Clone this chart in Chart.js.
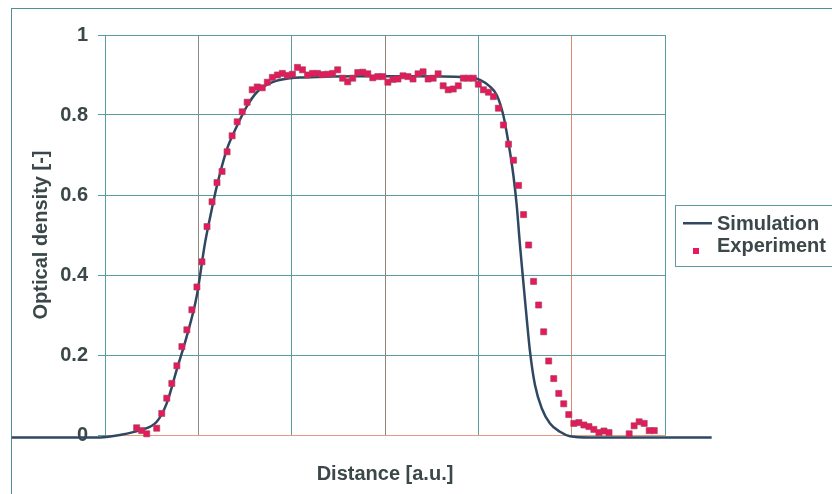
<!DOCTYPE html>
<html>
<head>
<meta charset="utf-8">
<script src="https://cdn.jsdelivr.net/npm/chart.js@4/dist/chart.umd.min.js"></script>
<style>
  html, body { margin: 0; padding: 0; background: #fff; overflow: hidden; }
  #frame { position: absolute; left: 11px; top: 8px; width: 900px; height: 600px;
           border-top: 1px solid #4f9095; border-left: 1px solid #4f9095; }
  #wrap { position: absolute; left: 0; top: 0; width: 832px; height: 494px; }
</style>
</head>
<body>
<div id="frame"></div>
<div id="wrap"><canvas id="grafico" width="832" height="494"></canvas></div>
<script>
// series names
const seriesNames = ["Simulation", "Experiment"];

// simulation curve (distance, optical density)
const simX = [0, 0.946, 1.160, 1.375, 1.554, 1.661, 1.768, 1.875, 1.982, 2.071, 2.143, 2.197, 2.304, 2.411, 2.518, 2.639, 2.803, 2.982, 3.121, 3.732, 4.375, 4.911, 5.018, 5.125, 5.197, 5.267, 5.321, 5.375, 5.411, 5.446, 5.482, 5.518, 5.554, 5.607, 5.679, 5.768, 5.875, 5.982, 6.196, 7.5];
const simY = [-0.006, -0.006, 0.000, 0.012, 0.033, 0.079, 0.163, 0.246, 0.346, 0.479, 0.563, 0.621, 0.713, 0.771, 0.821, 0.860, 0.883, 0.892, 0.894, 0.897, 0.897, 0.894, 0.888, 0.871, 0.850, 0.800, 0.733, 0.650, 0.575, 0.475, 0.383, 0.292, 0.208, 0.125, 0.067, 0.029, 0.008, -0.003, -0.006, -0.006];

// measured points
const expX = [1.339, 1.393, 1.447, 1.554, 1.608, 1.662, 1.716, 1.770, 1.824, 1.877,
  1.931, 1.985, 2.039, 2.093, 2.147, 2.200, 2.254, 2.308, 2.362, 2.416,
  2.470, 2.523, 2.577, 2.631, 2.685, 2.739, 2.793, 2.847, 2.900, 2.954,
  3.008, 3.062, 3.116, 3.170, 3.223, 3.277, 3.331, 3.385, 3.439, 3.493,
  3.546, 3.600, 3.654, 3.708, 3.762, 3.816, 3.869, 3.923, 3.977, 4.031,
  4.085, 4.139, 4.193, 4.246, 4.300, 4.354, 4.408, 4.462, 4.516, 4.569,
  4.623, 4.677, 4.731, 4.785, 4.839, 4.892, 4.946, 5.000, 5.054, 5.108,
  5.162, 5.215, 5.269, 5.323, 5.377, 5.431, 5.485, 5.539, 5.592, 5.646,
  5.700, 5.754, 5.808, 5.862, 5.915, 5.969, 6.023, 6.077, 6.131, 6.185,
  6.238, 6.292, 6.346, 6.400, 6.616, 6.669, 6.723, 6.777, 6.831, 6.885];
const expY = [0.018, 0.011, 0.003, 0.017, 0.054, 0.092, 0.129, 0.173, 0.221, 0.263,
  0.313, 0.370, 0.433, 0.521, 0.583, 0.631, 0.659, 0.708, 0.748, 0.783,
  0.808, 0.832, 0.863, 0.870, 0.868, 0.882, 0.894, 0.900, 0.904, 0.899,
  0.902, 0.919, 0.913, 0.900, 0.904, 0.904, 0.901, 0.902, 0.904, 0.913,
  0.892, 0.883, 0.892, 0.906, 0.907, 0.903, 0.893, 0.896, 0.896, 0.882,
  0.889, 0.890, 0.898, 0.896, 0.890, 0.903, 0.908, 0.890, 0.892, 0.903,
  0.873, 0.863, 0.865, 0.873, 0.892, 0.892, 0.892, 0.877, 0.863, 0.857,
  0.846, 0.817, 0.775, 0.727, 0.687, 0.624, 0.551, 0.475, 0.384, 0.325,
  0.258, 0.185, 0.141, 0.104, 0.078, 0.051, 0.029, 0.031, 0.025, 0.021,
  0.014, 0.006, 0.010, 0.006, 0.003, 0.023, 0.033, 0.029, 0.011, 0.011];

// axis ticks
const yTickLabels = ["0", "0.2", "0.4", "0.6", "0.8", "1"];
const xGridRange = [1, 7];

const textColor = "#3b4748";
const teal = "#5a9ca0";
const xGridColors = [teal, "#8c8a82", teal, "#8f8478", teal, "#d98b6e", teal];

Chart.defaults.font.family = "'Liberation Sans', Arial, sans-serif";

// legend icons
function iconLine() {
  const c = document.createElement("canvas");
  c.width = 50; c.height = 20;
  const g = c.getContext("2d");
  g.fillStyle = "#2f4862";
  g.fillRect(21, 8, 29, 2.5);
  return c;
}
function iconSquare() {
  const c = document.createElement("canvas");
  c.width = 50; c.height = 20;
  const g = c.getContext("2d");
  g.fillStyle = "#e5195b";
  g.fillRect(31, 12, 6, 6);
  return c;
}
const legendIcons = [iconLine(), iconSquare()];

const legendFrame = {
  id: "legendFrame",
  afterDraw(chart) {
    const lg = chart.legend;
    const boxes = lg.legendHitBoxes;
    if (!boxes || !boxes.length) return;
    const ctx = chart.ctx;
    const top = Math.round(boxes[0].top - 9);
    const last = boxes[boxes.length - 1];
    const bottom = Math.round(last.top + last.height + 10);
    ctx.save();
    ctx.strokeStyle = teal;
    ctx.lineWidth = 1;
    ctx.strokeRect(lg.left + 10.5, top + 0.5, 300, bottom - top);
    ctx.restore();
  }
};

const defaultLabels = Chart.defaults.plugins.legend.labels.generateLabels;

new Chart(document.getElementById("grafico"), {
  type: "scatter",
  data: {
    datasets: [{
      label: seriesNames[0],
      data: simX.map((x, i) => ({x: x, y: simY[i]})),
      showLine: true,
      borderColor: "#2f4862",
      backgroundColor: "#2f4862",
      borderWidth: 2.5,
      pointRadius: 0,
      cubicInterpolationMode: "monotone",
      clip: false,
      order: 1
    }, {
      label: seriesNames[1],
      data: expX.map((x, i) => ({x: x, y: expY[i]})),
      showLine: false,
      pointStyle: "rect",
      pointRadius: 4.3,
      backgroundColor: "#e5195b",
      borderColor: "rgba(160,70,90,0.8)",
      borderWidth: 0.8,
      clip: false,
      order: 0
    }]
  },
  options: {
    responsive: false,
    animation: false,
    layout: { padding: { left: 25, top: 35, right: 0, bottom: 4 } },
    scales: {
      x: {
        type: "linear",
        afterDataLimits: s => { s.min = xGridRange[0]; s.max = xGridRange[1]; },
        afterFit: s => { s.height = 55; },
        ticks: { display: false, stepSize: 1 },
        grid: { color: c => xGridColors[c.index] || teal, drawTicks: false, lineWidth: 1 },
        border: { color: "#e29a82", width: 1 },
        title: {
          display: true, text: "Distance [a.u.]", color: textColor,
          font: { size: 20, weight: "bold" }
        }
      },
      y: {
        min: 0, max: 1,
        afterFit: s => { s.width = 80; },
        ticks: {
          stepSize: 0.2, padding: 10, color: textColor,
          font: { size: 20, weight: "bold" },
          callback: (v, i) => yTickLabels[i]
        },
        grid: { color: teal, tickLength: 7, lineWidth: 1 },
        border: { color: teal, width: 1 },
        title: {
          display: true, text: "Optical density [-]", color: textColor,
          font: { size: 20, weight: "bold" }
        }
      }
    },
    plugins: {
      tooltip: { enabled: false },
      legend: {
        position: "right",
        fullSize: false,
        maxWidth: 167,
        labels: {
          usePointStyle: true,
          pointStyleWidth: 40,
          boxHeight: 20,
          padding: 2,
          color: textColor,
          font: { size: 20, weight: "bold" },
          generateLabels: chart => defaultLabels(chart).map(item =>
            Object.assign(item, { pointStyle: legendIcons[item.datasetIndex] })),
          sort: (a, b) => a.datasetIndex - b.datasetIndex
        }
      }
    }
  },
  plugins: [legendFrame]
});
</script>
</body>
</html>
